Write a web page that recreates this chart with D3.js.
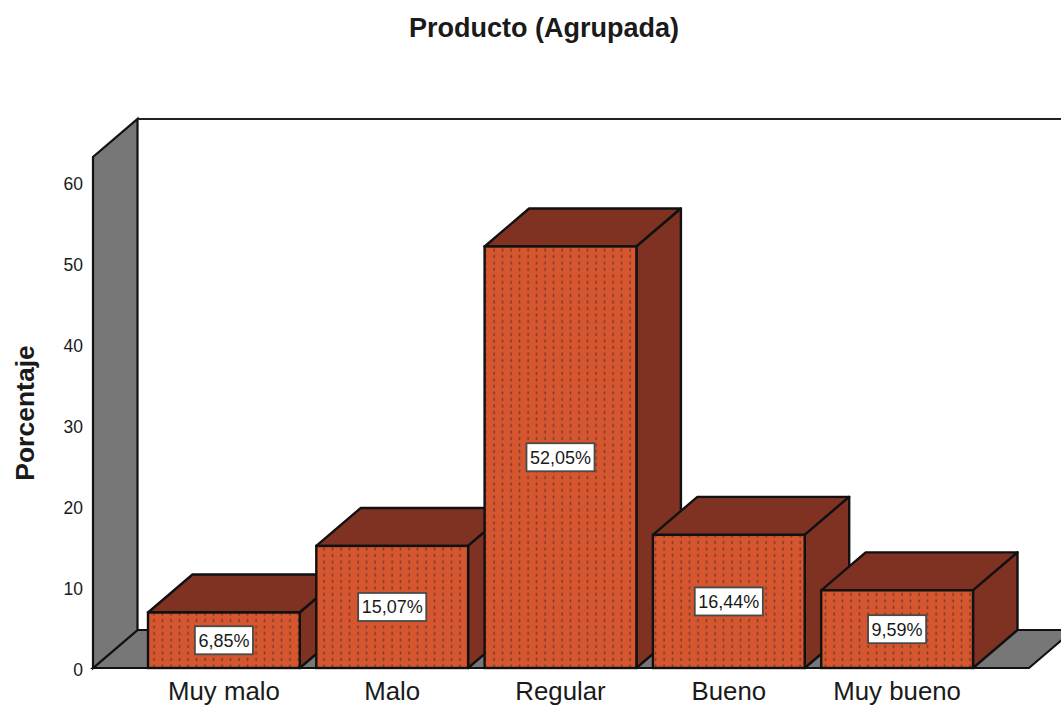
<!DOCTYPE html>
<html>
<head>
<meta charset="utf-8">
<script src="https://cdnjs.cloudflare.com/ajax/libs/d3/7.8.5/d3.min.js"></script>
<style>
    html, body { margin: 0; padding: 0; background: #fff; overflow: hidden; }
    text { font-family: "Liberation Sans", Arial, sans-serif; fill: #1a1a1a; }
</style>
</head>
<body>
<div id="chart"></div>
<script>
var categories = ["Muy malo", "Malo", "Regular", "Bueno", "Muy bueno"];
var percentages = [6.85, 15.07, 52.05, 16.44, 9.59];
var valueLabels = ["6,85%", "15,07%", "52,05%", "16,44%", "9,59%"];
var yTicks = [0, 10, 20, 30, 40, 50, 60];
var chartTitle = "Producto (Agrupada)";
var yTitle = "Porcentaje";

var width = 1061, height = 706;
var depthX = 44.5, depthY = -38;
var front = "#d6562f", dark = "#7f3222", wall = "#777777", stroke = "#111111";

var svg = d3.select("#chart").append("svg")
    .attr("width", width)
    .attr("height", height)
    .style("display", "block");

// y scale: 0 sits on the front floor line, top of the wall is about 63
var yScale = d3.scaleLinear().domain([0, 63.1]).range([668, 157]);
var xScale = d3.scaleBand().domain(categories).range([148, 973]).paddingInner(0.098);

// dotted fill of the bar fronts
var pattern = svg.append("defs").append("pattern")
    .attr("id", "dots")
    .attr("patternUnits", "userSpaceOnUse")
    .attr("x", 150)
    .attr("y", 0)
    .attr("width", 8.5)
    .attr("height", 6.5);
pattern.append("rect")
    .attr("width", 8.5)
    .attr("height", 6.5)
    .attr("fill", front);
pattern.append("rect")
    .attr("x", 3.4)
    .attr("y", 1.5)
    .attr("width", 1.4)
    .attr("height", 3)
    .attr("fill", "#6e3a2a");

function pts(list) {
    return list.map(function (p) { return p.join(","); }).join(" ");
}

// walls and floor
var x0 = 93, x1 = 1029, y0 = yScale(0), yTop = yScale(63.1);

svg.append("polygon")
    .attr("points", pts([[x0, y0], [x1, y0], [x1 + depthX, y0 + depthY], [x0 + depthX, y0 + depthY]]))
    .attr("fill", wall)
    .attr("stroke", stroke)
    .attr("stroke-width", 2.2);

svg.append("polygon")
    .attr("points", pts([[x0, y0], [x0, yTop], [x0 + depthX, yTop + depthY], [x0 + depthX, y0 + depthY]]))
    .attr("fill", wall)
    .attr("stroke", stroke)
    .attr("stroke-width", 2.2);

svg.append("line")
    .attr("x1", x0 + depthX)
    .attr("y1", yTop + depthY)
    .attr("x2", width)
    .attr("y2", yTop + depthY)
    .attr("stroke", "#222")
    .attr("stroke-width", 2.2);

// bars, left to right so each one covers the side of the previous one
var data = categories.map(function (c, i) {
    return { cat: c, val: percentages[i], label: valueLabels[i] };
});

var bars = svg.selectAll(".bar")
    .data(data)
    .enter().append("g")
    .attr("class", "bar");

bars.append("polygon")
    .attr("points", function (d) {
        var l = xScale(d.cat), r = l + xScale.bandwidth(), t = yScale(d.val);
        return pts([[l, t], [l + depthX, t + depthY], [r + depthX, t + depthY], [r, t]]);
    })
    .attr("fill", dark)
    .attr("stroke", stroke)
    .attr("stroke-width", 2.4)
    .attr("stroke-linejoin", "round");

bars.append("polygon")
    .attr("points", function (d) {
        var r = xScale(d.cat) + xScale.bandwidth(), t = yScale(d.val);
        return pts([[r, t], [r + depthX, t + depthY], [r + depthX, y0 + depthY], [r, y0]]);
    })
    .attr("fill", dark)
    .attr("stroke", stroke)
    .attr("stroke-width", 2.4)
    .attr("stroke-linejoin", "round");

bars.append("rect")
    .attr("x", function (d) { return xScale(d.cat); })
    .attr("y", function (d) { return yScale(d.val); })
    .attr("width", xScale.bandwidth())
    .attr("height", function (d) { return y0 - yScale(d.val); })
    .attr("fill", "url(#dots)")
    .attr("stroke", stroke)
    .attr("stroke-width", 2.4);

// value labels in white boxes
var labels = bars.append("g")
    .attr("transform", function (d) {
        return "translate(" + (xScale(d.cat) + xScale.bandwidth() / 2) + "," + ((yScale(d.val) + y0) / 2) + ")";
    });

var labelText = labels.append("text")
    .attr("text-anchor", "middle")
    .attr("dy", "0.36em")
    .style("font-size", "18px")
    .text(function (d) { return d.label; });

labelText.each(function () {
    var w = this.getComputedTextLength() + 7;
    d3.select(this.parentNode).insert("rect", "text")
        .attr("x", -w / 2)
        .attr("y", -14)
        .attr("width", w)
        .attr("height", 28)
        .attr("fill", "#fff")
        .attr("stroke", "#4a4a4a")
        .attr("stroke-width", 1.8);
});

// axes
var yAxis = d3.axisLeft(yScale).tickValues(yTicks).tickSize(0).tickPadding(10);
var yAxisG = svg.append("g")
    .attr("transform", "translate(" + x0 + ",0)")
    .call(yAxis)
    .attr("font-family", null);
yAxisG.select(".domain").remove();
yAxisG.selectAll("text")
    .attr("dy", "0.45em")
    .style("font-size", "17.5px");

// labels sit just above the bottom edge of the page
var xAxis = d3.axisBottom(xScale).tickSize(0).tickPadding(14);
var xAxisG = svg.append("g")
    .attr("transform", "translate(0," + y0 + ")")
    .call(xAxis)
    .attr("font-family", null);
xAxisG.select(".domain").remove();
xAxisG.selectAll("text")
    .attr("dy", "0.7em")
    .style("font-size", "25.8px");

// titles
svg.append("text")
    .attr("x", 544)
    .attr("y", 37)
    .attr("text-anchor", "middle")
    .style("font-size", "27px")
    .style("font-weight", "bold")
    .text(chartTitle);

svg.append("text")
    .attr("transform", "translate(34,413) rotate(-90)")
    .attr("text-anchor", "middle")
    .style("font-size", "26.5px")
    .style("font-weight", "bold")
    .text(yTitle);
</script>
</body>
</html>
